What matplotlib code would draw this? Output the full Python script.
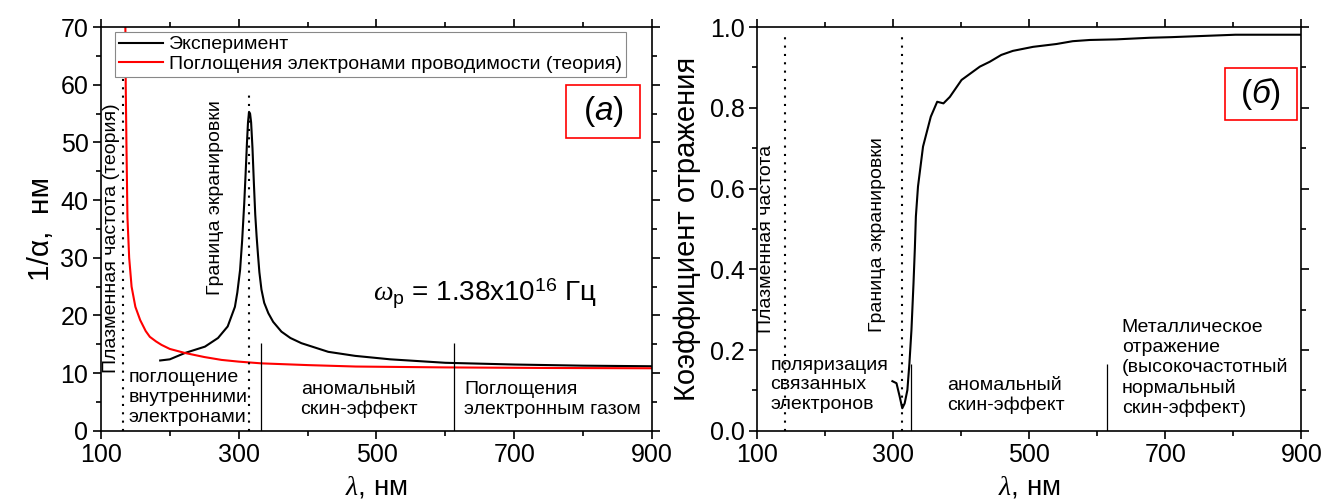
import matplotlib
matplotlib.use('Agg')
import matplotlib.pyplot as plt
from matplotlib.patches import Rectangle
from matplotlib.ticker import MultipleLocator, FixedLocator, FormatStrFormatter

plt.rcParams['font.family'] = ['Liberation Sans', 'DejaVu Sans']
plt.rcParams['mathtext.fontset'] = 'custom'
plt.rcParams['mathtext.it'] = 'Liberation Serif:italic'
plt.rcParams['mathtext.rm'] = 'Liberation Sans'
plt.rcParams['mathtext.sf'] = 'Liberation Sans:italic'

# wavelength axis ticks, nm
x_major = [100, 300, 500, 700, 900]
x_minor = [200, 400, 600, 800]

# (a) inverse absorption coefficient, nm
exp_wl = [186, 200, 222, 251, 270, 284, 294.5, 298, 302, 305, 308, 310, 312, 313.5,
          315, 316.5, 318, 320, 322, 324, 326, 328, 330, 333, 337, 343, 350, 362,
          375, 391, 430, 469, 520, 600, 700, 800, 900]
exp_inv = [12.2, 12.4, 13.5, 14.6, 16.1, 18.1, 21.5, 24.0, 27.9, 33.0, 39.4, 44.5,
           50.0, 53.5, 55.3, 55.0, 53.5, 49.0, 43.0, 37.5, 33.7, 30.5, 27.5, 24.5,
           22.2, 20.4, 18.9, 17.2, 16.1, 15.2, 13.7, 13.0, 12.4, 11.8, 11.5, 11.3, 11.2]

theory_wl = [135.5, 136, 137, 138.5, 141, 144.5, 150, 157, 165, 171, 180, 188, 200,
             222, 250, 275, 300, 333, 400, 470, 600, 750, 900]
theory_inv = [70, 60, 50, 37, 30, 25, 21.5, 19.2, 17.3, 16.3, 15.5, 14.9, 14.2,
              13.5, 12.8, 12.3, 12.0, 11.7, 11.4, 11.15, 11.0, 10.9, 10.85]

# (б) reflection coefficient
refl_wl = [299, 305, 309.7, 313.5, 317, 321, 324, 327, 330, 332, 333.5, 336.6, 344,
           355.4, 364.8, 374, 383.4, 400.6, 427.5, 442, 459, 476, 505.7, 540, 564,
           589, 628, 677, 709, 803, 900]
refl = [0.123, 0.118, 0.085, 0.056, 0.068, 0.101, 0.167, 0.25, 0.365, 0.452, 0.531,
        0.605, 0.704, 0.778, 0.815, 0.811, 0.827, 0.869, 0.902, 0.914, 0.931, 0.941,
        0.951, 0.958, 0.965, 0.968, 0.9695, 0.9735, 0.975, 0.981, 0.981]

# boundaries: dotted = plasma frequency / screening edge, solid = regime borders
a_dotted = [132.5, 315]
a_solid = [333, 612]
b_dotted = [141, 313.5]
b_solid = [326, 614]

fig = plt.figure(figsize=(13.28, 5.01), dpi=100)
ax1 = fig.add_axes([0.076, 0.140, 0.415, 0.806])
ax2 = fig.add_axes([0.570, 0.140, 0.410, 0.806])

dots = (0, (1, 3))
txt = 14
tick_fs = 18
lab_fs = 20


def style_axes(ax, ymaj, ymin):
    ax.set_xlim(100, 900)
    ax.xaxis.set_major_locator(FixedLocator(x_major))
    ax.xaxis.set_minor_locator(FixedLocator(x_minor))
    ax.yaxis.set_major_locator(MultipleLocator(ymaj))
    ax.yaxis.set_minor_locator(MultipleLocator(ymin))
    ax.tick_params(which='both', direction='out', top=True, right=True,
                   width=1.2, labelsize=tick_fs, pad=3)
    ax.tick_params(which='major', length=6)
    ax.tick_params(which='minor', length=3.5)
    for s in ax.spines.values():
        s.set_linewidth(1.2)
    ax.set_xlabel(r'$\lambda$, нм', fontsize=lab_fs, labelpad=5)


# ---- panel (a)
ax1.plot(exp_wl, exp_inv, color='black', lw=1.5, label='Эксперимент')
ax1.plot(theory_wl, theory_inv, color='red', lw=1.5,
         label='Поглощения электронами проводимости (теория)')
ax1.vlines(a_dotted[0], 0, 62, colors='black', linestyles=dots, lw=1.5)
ax1.vlines(a_dotted[1], 0, 59, colors='black', linestyles=dots, lw=1.5)
ax1.vlines(a_solid, 0, 15.2, colors='black', lw=0.9)
ax1.set_ylim(0, 70)
style_axes(ax1, 10, 5)
ax1.set_ylabel('1/α,  нм', fontsize=21.5, labelpad=4)

ax1.text(115.5, 10.0, 'Плазменная частота (теория)', rotation=90,
         ha='center', va='bottom', fontsize=txt)
ax1.text(266.5, 23.6, 'Граница экранировки', rotation=90,
         ha='center', va='bottom', fontsize=txt)
ax1.text(139.5, 5.8, 'поглощение\nвнутренними\nэлектронами', ha='left',
         va='center', fontsize=txt, linespacing=1.2)
ax1.text(474, 5.4, 'аномальный\nскин-эффект', ha='center', va='center',
         fontsize=txt, linespacing=1.2)
ax1.text(627, 5.4, 'Поглощения\nэлектронным газом', ha='left', va='center',
         fontsize=txt, linespacing=1.2)
ax1.text(495, 23.8, r'$\omega_{\mathrm{p}}$ = 1.38x10$^{16}$ Гц', ha='left',
         va='center', fontsize=20)

leg = ax1.legend(loc='upper left', bbox_to_anchor=(0.025, 0.988), borderaxespad=0,
                 fontsize=14, handlelength=2.3, handletextpad=0.3,
                 labelspacing=0.1, borderpad=0.2, fancybox=False,
                 framealpha=1)
leg.get_frame().set_edgecolor('#888888')
leg.get_frame().set_linewidth(0.8)

ax1.add_patch(Rectangle((0.844, 0.725), 0.134, 0.131, transform=ax1.transAxes,
                        fill=False, edgecolor='red', lw=1.2))
ax1.text(0.911, 0.79, r'($\mathsf{а}$)', transform=ax1.transAxes, ha='center',
         va='center', fontsize=24)

# ---- panel (b)
ax2.plot(refl_wl, refl, color='black', lw=1.5)
ax2.vlines(b_dotted, 0, 0.99, colors='black', linestyles=dots, lw=1.5)
ax2.vlines(b_solid, 0, 0.165, colors='black', lw=0.9)
ax2.set_ylim(0, 1.0)
style_axes(ax2, 0.2, 0.1)
ax2.yaxis.set_major_formatter(FormatStrFormatter('%.1f'))
ax2.set_ylabel('Коэффициент отражения', fontsize=21, labelpad=6)

ax2.text(114.5, 0.242, 'Плазменная частота', rotation=90, ha='center',
         va='bottom', fontsize=txt)
ax2.text(277, 0.246, 'Граница экранировки', rotation=90, ha='center',
         va='bottom', fontsize=txt)
ax2.text(119.5, 0.114, 'поляризация\nсвязанных\nэлектронов', ha='left',
         va='center', fontsize=txt, linespacing=1.2)
ax2.text(380, 0.087, 'аномальный\nскин-эффект', ha='left', va='center',
         fontsize=txt, linespacing=1.2)
ax2.text(636, 0.155, 'Металлическое\nотражение\n(высокочастотный\nнормальный\nскин-эффект)',
         ha='left', va='center', fontsize=txt, linespacing=1.2)

ax2.add_patch(Rectangle((0.859, 0.770), 0.132, 0.129, transform=ax2.transAxes,
                        fill=False, edgecolor='red', lw=1.2))
ax2.text(0.925, 0.834, r'($\mathsf{б}$)', transform=ax2.transAxes, ha='center',
         va='center', fontsize=24)

fig.savefig('out.png', dpi=100)
